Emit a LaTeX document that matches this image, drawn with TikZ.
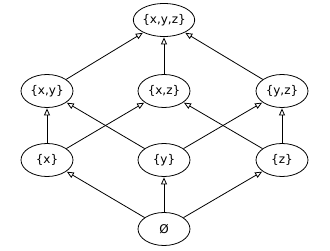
\documentclass[tikz,border=0pt]{standalone}
\usepackage{fontspec}
\setmainfont{DejaVu Sans}
\usetikzlibrary{arrows.meta,shapes.geometric}
\begin{document}
\begin{tikzpicture}[x=1pt,y=-1pt,
  setnode/.style={draw,ellipse,minimum width=52pt,minimum height=33pt,inner sep=0pt,line width=0.8pt,font=\fontsize{12}{14}\selectfont},
  up/.style={-{Triangle[open,length=7pt,width=6pt]},line width=0.8pt,shorten >=0.5pt}]
\useasboundingbox (0,0) rectangle (330,251);
\node[setnode] (xyz) at (164,20) {\{x,y,z\}};
\node[setnode] (xy) at (47,91) {\{x,y\}};
\node[setnode] (xz) at (164,91) {\{x,z\}};
\node[setnode] (yz) at (282,91) {\{y,z\}};
\node[setnode] (x) at (47,160) {\{x\}};
\node[setnode] (y) at (164,160) {\{y\}};
\node[setnode] (z) at (282,160) {\{z\}};
\node[setnode] (e) at (164,229) {Ø};
\draw[up] (xy) -- (xyz);
\draw[up] (xz) -- (xyz);
\draw[up] (yz) -- (xyz);
\draw[up] (x) -- (xy);
\draw[up] (x) -- (xz);
\draw[up] (y) -- (xy);
\draw[up] (y) -- (yz);
\draw[up] (z) -- (xz);
\draw[up] (z) -- (yz);
\draw[up] (e) -- (x);
\draw[up] (e) -- (y);
\draw[up] (e) -- (z);
\end{tikzpicture}
\end{document}
